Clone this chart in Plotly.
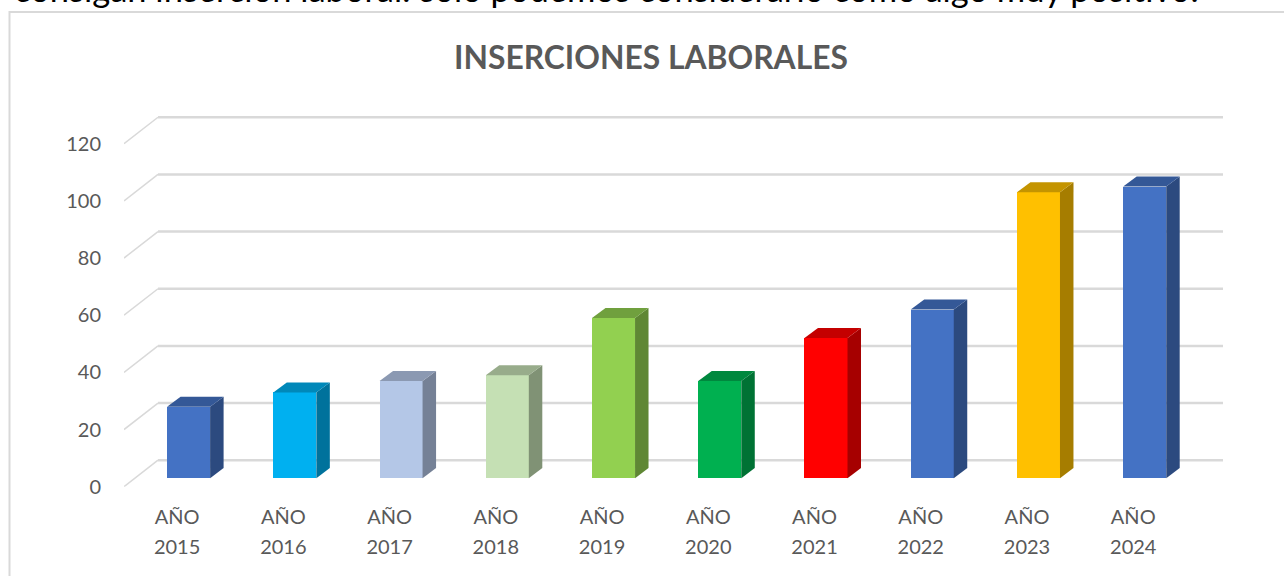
import plotly.graph_objects as go

W, H = 1284, 576

# Data
years = ["2015", "2016", "2017", "2018", "2019", "2020", "2021", "2022", "2023", "2024"]
label_top = ["AÑO"] * 10
inserciones = [25, 30, 34, 36, 56, 34, 49, 59, 100, 102]
y_ticks = [0, 20, 40, 60, 80, 100, 120]
bar_colors = ["#4472C4", "#00B0F0", "#B4C7E7", "#C5E0B4", "#92D050",
              "#00B050", "#FF0000", "#4472C4", "#FFC000", "#4472C4"]

title = "INSERCIONES LABORALES"
text_above = "consigan inserción laboral: solo podemos considerarlo como algo muy positivo."

# Fake 3D depth, in axis units
WALL_DX, WALL_DY = 0.32, 9.27
BAR_OFFSET, BAR_WIDTH, BAR_BASE = 0.108, 0.405, 3.0
BAR_DX, BAR_DY = 0.127, 3.5
X_MIN, X_MAX = -0.5, 9.845
Y_MAX = 135.3
GRID = "#D9D9D9"
TEXT = "#595959"
FONT = "Lato"


def shade(color, k):
    r, g, b = (int(color[i:i + 2], 16) for i in (1, 3, 5))
    return f"rgb({r * k:.0f},{g * k:.0f},{b * k:.0f})"


fig = go.Figure()

# Front of the bars
fig.add_trace(go.Bar(
    x=[i + BAR_OFFSET for i in range(len(years))],
    y=inserciones,
    base=BAR_BASE,
    width=BAR_WIDTH,
    marker_color=bar_colors,
    marker_line_width=0,
    hoverinfo="y",
))

# Side and top faces of the bars
for i, (v, c) in enumerate(zip(inserciones, bar_colors)):
    x0 = i + BAR_OFFSET - BAR_WIDTH / 2
    x1 = x0 + BAR_WIDTH
    top = v + BAR_BASE
    fig.add_trace(go.Scatter(
        x=[x1, x1 + BAR_DX, x1 + BAR_DX, x1, x1],
        y=[BAR_BASE, BAR_BASE + BAR_DY, top + BAR_DY, top, BAR_BASE],
        fill="toself", fillcolor=shade(c, 0.65), mode="none", hoverinfo="skip",
    ))
    fig.add_trace(go.Scatter(
        x=[x0, x1, x1 + BAR_DX, x0 + BAR_DX, x0],
        y=[top, top, top + BAR_DY, top + BAR_DY, top],
        fill="toself", fillcolor=shade(c, 0.77), mode="none", hoverinfo="skip",
    ))

# Invisible trace so the second x axis (year line of the labels) gets drawn
fig.add_trace(go.Scatter(x=[0], y=[0], xaxis="x2", mode="none", hoverinfo="skip"))

# Back wall gridlines and the diagonals to the front
shapes = []
for t in y_ticks:
    shapes.append(dict(type="line", xref="x", yref="y", layer="below",
                       x0=X_MIN + WALL_DX, x1=X_MAX, y0=t + WALL_DY, y1=t + WALL_DY,
                       line=dict(color=GRID, width=2.5)))
    shapes.append(dict(type="line", xref="x", yref="y", layer="below",
                       x0=X_MIN, x1=X_MIN + WALL_DX, y0=t, y1=t + WALL_DY,
                       line=dict(color=GRID, width=1.5)))

# Chart frame, runs off the right and bottom of the crop
shapes.append(dict(type="rect", xref="paper", yref="paper", layer="below",
                   x0=9.5 / W, x1=1.01, y0=-0.01, y1=1 - 12 / H,
                   line=dict(color=GRID, width=2)))

tick_common = dict(
    range=[X_MIN, X_MAX],
    domain=[124 / W, 1223 / W],
    tickmode="array",
    tickvals=list(range(len(years))),
    showgrid=False,
    zeroline=False,
    showline=False,
    ticks="",
    tickangle=0,
    tickfont=dict(family=FONT, size=20, color=TEXT),
)

fig.update_layout(
    width=W,
    height=H,
    margin=dict(l=0, r=0, t=0, b=0, autoexpand=False),
    autosize=False,
    paper_bgcolor="white",
    plot_bgcolor="rgba(0,0,0,0)",
    showlegend=False,
    bargap=0,
    shapes=shapes,
    title=dict(
        text=f"<b>{title}</b>",
        x=651 / W, xanchor="center",
        y=1 - 58 / H, yanchor="middle",
        font=dict(family=FONT, size=31.8, color=TEXT),
    ),
    xaxis=dict(tick_common, ticktext=label_top, ticklabelstandoff=16),
    xaxis2=dict(tick_common, ticktext=years, ticklabelstandoff=46,
                overlaying="x", anchor="y", side="bottom"),
    yaxis=dict(
        range=[0, Y_MAX],
        domain=[1 - 486.7 / H, 1 - 100 / H],
        tickmode="array",
        tickvals=y_ticks,
        showgrid=False,
        zeroline=False,
        showline=False,
        ticks="",
        ticklabelstandoff=22,
        tickfont=dict(family=FONT, size=20, color=TEXT),
    ),
    annotations=[dict(
        text=text_above,
        xref="paper", yref="paper",
        x=12 / W, xanchor="left",
        y=1 - 11 / H, yanchor="bottom",
        showarrow=False,
        font=dict(family=FONT, size=34.5, color="black"),
    )],
)

fig.write_html("out.html", config={"displayModeBar": False},
               post_script="document.body.style.margin='0';")
